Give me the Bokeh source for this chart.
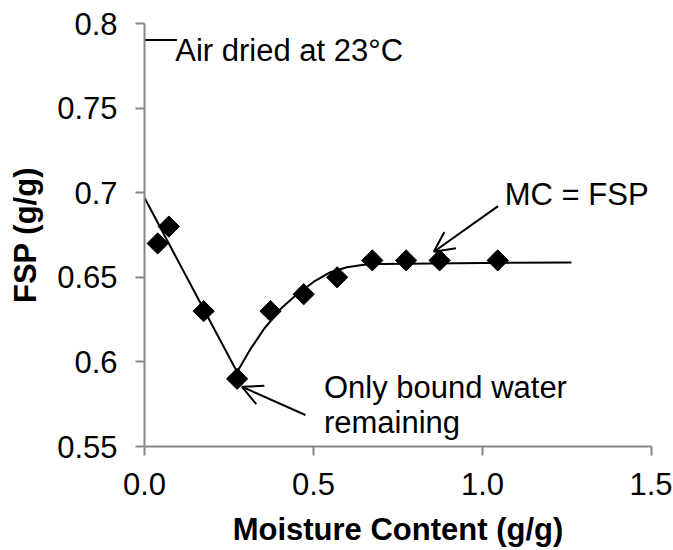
import numpy as np
from bokeh.plotting import figure
from bokeh.models import Arrow, OpenHead, FixedTicker, Range1d, LabelSet, ColumnDataSource
from bokeh.core.properties import value
from bokeh.embed import file_html
from bokeh.resources import INLINE

# measured points
mc = [0.039, 0.072, 0.175, 0.274, 0.373, 0.471, 0.570, 0.674, 0.774, 0.873, 1.045]
fsp = [0.67, 0.68, 0.63, 0.59, 0.63, 0.64, 0.65, 0.66, 0.66, 0.66, 0.66]

# trend line
trend_mc = [0.0, 0.274, 0.315, 0.354, 0.403, 0.451, 0.501, 0.550, 0.599, 0.649, 0.698, 0.846, 1.263]
trend_fsp = [0.697, 0.594, 0.608, 0.6196, 0.6314, 0.640, 0.6474, 0.653, 0.6559, 0.6574, 0.6578, 0.6582, 0.6588]

# "Air dried at 23°C" marker line
air_mc = [0.0, 0.096]
air_fsp = [0.7902, 0.7902]

# annotation texts
ann_text = ["Air dried at 23°C", "Only bound water", "remaining", "MC = FSP"]
ann_x = [0.091, 0.531, 0.531, 1.066]
ann_y = [0.778, 0.5784, 0.5578, 0.6925]

# arrows (start -> tip)
arr_x0 = [0.476, 1.046]
arr_y0 = [0.5686, 0.6921]
arr_x1 = [0.2886, 0.856]
arr_y1 = [0.5853, 0.6651]

x_ticks = [0.0, 0.5, 1.0, 1.5]
x_labels = ["0.0", "0.5", "1.0", "1.5"]
y_ticks = [0.55, 0.6, 0.65, 0.7, 0.75, 0.8]
y_labels = ["0.55", "0.6", "0.65", "0.7", "0.75", "0.8"]

FONT = "Liberation Sans"

p = figure(width=672, height=549,
           x_range=Range1d(0, 1.5), y_range=Range1d(0.55, 0.8),
           output_backend="svg", toolbar_location=None,
           min_border_left=144, min_border_right=21,
           min_border_top=23, min_border_bottom=101)
p.outline_line_color = None
p.grid.visible = False
p.background_fill_color = "white"
p.border_fill_color = "white"

for ax, ticks, labels in ((p.xaxis, x_ticks, x_labels), (p.yaxis, y_ticks, y_labels)):
    ax.ticker = FixedTicker(ticks=ticks)
    ax.major_label_overrides = {t: l for t, l in zip(ticks, labels)}
    ax.axis_line_color = "#868686"
    ax.axis_line_width = 2
    ax.major_tick_line_color = "#868686"
    ax.major_tick_line_width = 2
    ax.major_tick_in = 0
    ax.major_tick_out = 9
    ax.minor_tick_line_color = None
    ax.major_label_text_font = FONT
    ax.major_label_text_font_size = "31px"
    ax.major_label_text_color = "black"
    ax.axis_label_text_font = FONT
    ax.axis_label_text_font_size = "31px"
    ax.axis_label_text_font_style = "bold"
    ax.axis_label_text_color = "black"

p.xaxis.axis_label = "Moisture Content (g/g)"
p.yaxis.axis_label = "FSP (g/g)"
p.xaxis.major_label_standoff = 17
p.xaxis.axis_label_standoff = 14
p.yaxis.major_label_standoff = 18
p.yaxis.axis_label_standoff = 11

p.line(trend_mc, trend_fsp, line_color="black", line_width=2)
p.line(air_mc, air_fsp, line_color="black", line_width=2)
p.scatter(mc, fsp, marker="square", size=15, angle=np.pi / 4,
          fill_color="black", line_color="black")

ann_src = ColumnDataSource(dict(x=ann_x, y=ann_y, text=ann_text))
p.add_layout(LabelSet(x="x", y="y", text="text", source=ann_src,
                      text_font=value(FONT), text_font_size=value("31px"),
                      text_color=value("black"),
                      text_align=value("left"), text_baseline=value("alphabetic")))

for x0, y0, x1, y1 in zip(arr_x0, arr_y0, arr_x1, arr_y1):
    p.add_layout(Arrow(x_start=x0, y_start=y0, x_end=x1, y_end=y1,
                       line_color="black", line_width=2,
                       end=OpenHead(size=20, line_color="black", line_width=2)))

open("out.html", "w").write(file_html(p, INLINE))
